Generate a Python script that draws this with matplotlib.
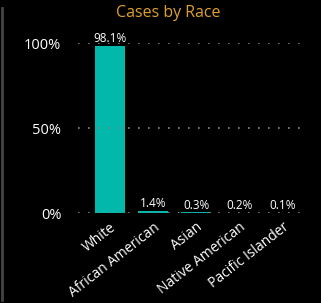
import matplotlib
matplotlib.use("Agg")
import matplotlib.pyplot as plt
from matplotlib.lines import Line2D

categories = ["White", "African American", "Asian", "Native American", "Pacific Islander"]
values = [98.1, 1.4, 0.3, 0.2, 0.1]
value_labels = ["98.1%", "1.4%", "0.3%", "0.2%", "0.1%"]
yticks = [0, 50, 100]
ytick_labels = ["0%", "50%", "100%"]

plt.rcParams['font.family'] = ['Open Sans', 'DejaVu Sans']
fig = plt.figure(figsize=(3.21, 3.03), dpi=100, facecolor="black")
ax = fig.add_axes([0.243, 0.297, 0.717, 0.561], facecolor="black")

x = list(range(len(categories)))
ax.bar(x, values, width=0.7, color="#01B8AA", zorder=2)
for xi, v, lab in zip(x, values, value_labels):
    ax.text(xi, v + 0.5, lab, ha="center", va="bottom", color="white", fontsize=8.5, zorder=4)

ax.set_xlim(-0.744, 4.6)
ax.set_ylim(0, 100)
ax.set_yticks(yticks)
ax.set_yticklabels(ytick_labels, color="white", fontsize=10.5)
ax.set_xticks(x)
ax.set_xticklabels(categories, rotation=38, ha="right", rotation_mode="anchor", color="white", fontsize=10)
ax.tick_params(axis="y", length=0, pad=12)
ax.tick_params(axis="x", length=0, pad=5)
ax.set_axisbelow(False)
ax.yaxis.grid(True, color="#888888", linestyle=(0, (1, 5)), linewidth=1.2, zorder=3)
for s in ax.spines.values():
    s.set_visible(False)

fig.text(0.523, 0.957, "Cases by Race", ha="center", va="center", color="#E0A030", fontsize=11.5)
fig.add_artist(Line2D([0.005, 0.005], [0.01, 0.975], color="#444444", linewidth=2, transform=fig.transFigure))

fig.savefig("out.png", dpi=100, facecolor="black")
